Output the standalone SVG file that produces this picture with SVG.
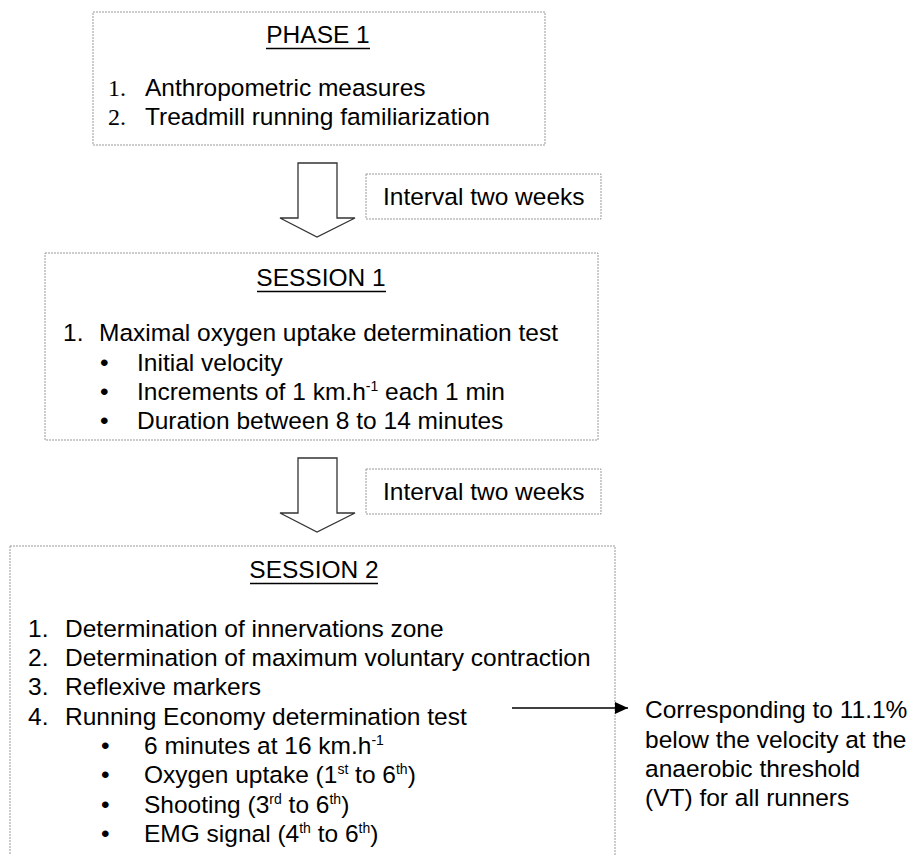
<svg xmlns="http://www.w3.org/2000/svg" width="911" height="855" viewBox="0 0 911 855">
<style>
.box{fill:#fff;stroke:#999;stroke-width:1;stroke-dasharray:2 1}
.t{font-family:"Liberation Sans",Arial,sans-serif;font-size:24.5px;fill:#000}
.n{font-family:"Liberation Serif","Times New Roman",serif;font-size:24px;fill:#000}
.h{text-anchor:middle}
.ul{stroke:#000;stroke-width:1.5}
.big{fill:#fff;stroke:#333;stroke-width:1.3}
.sup{font-size:14px}
</style>
<defs>
<marker id="ah" viewBox="0 0 13 12" refX="13" refY="6" markerWidth="13" markerHeight="12" markerUnits="userSpaceOnUse" orient="auto"><path d="M0,0 L13,6 L0,12 z" fill="#000"/></marker>
</defs>
<rect width="911" height="855" fill="#fff"/>
<g id="phase1">
<rect class="box" x="93" y="12" width="452" height="133"/>
<text class="t h" x="318" y="43">PHASE 1</text>
<line class="ul" x1="266" y1="48.5" x2="370" y2="48.5"/>
<text class="n" x="108" y="96">1.</text><text class="t" x="145" y="96">Anthropometric measures</text>
<text class="n" x="108" y="125">2.</text><text class="t" x="145" y="125">Treadmill running familiarization</text>
</g>
<g id="arrow1">
<path class="big" d="M298,163 H337 V218 H355 L317,237 L280,218 H298 Z"/>
</g>
<g id="interval1">
<rect class="box" x="366" y="174" width="235" height="45"/>
<text class="t" x="383" y="205">Interval two weeks</text>
</g>
<g id="session1">
<rect class="box" x="45" y="253" width="553" height="187"/>
<text class="t h" x="321" y="286">SESSION 1</text>
<line class="ul" x1="257" y1="291.5" x2="386" y2="291.5"/>
<text class="t" x="63" y="341">1.</text><text class="t" x="99" y="341">Maximal oxygen uptake determination test</text>
<text class="t" x="100" y="371">•</text><text class="t" x="137" y="371">Initial velocity</text>
<text class="t" x="100" y="400">•</text><text class="t" x="137" y="400">Increments of 1 km.h<tspan class="sup" dy="-9">-1</tspan><tspan dy="9"> each 1 min</tspan></text>
<text class="t" x="100" y="429">•</text><text class="t" x="137" y="429">Duration between 8 to 14 minutes</text>
</g>
<g id="arrow2">
<path class="big" d="M298,458 H337 V513 H355 L317,532 L280,513 H298 Z"/>
</g>
<g id="interval2">
<rect class="box" x="366" y="469" width="235" height="45"/>
<text class="t" x="383" y="500">Interval two weeks</text>
</g>
<g id="session2">
<rect class="box" x="10" y="546" width="605" height="320"/>
<text class="t h" x="314" y="578">SESSION 2</text>
<line class="ul" x1="250" y1="583.5" x2="378" y2="583.5"/>
<text class="t" x="28" y="637">1.</text><text class="t" x="65" y="637">Determination of innervations zone</text>
<text class="t" x="28" y="666">2.</text><text class="t" x="65" y="666">Determination of maximum voluntary contraction</text>
<text class="t" x="28" y="695">3.</text><text class="t" x="65" y="695">Reflexive markers</text>
<text class="t" x="28" y="725">4.</text><text class="t" x="65" y="725">Running Economy determination test</text>
<text class="t" x="101" y="754">•</text><text class="t" x="144" y="754">6 minutes at 16 km.h<tspan class="sup" dy="-9">-1</tspan></text>
<text class="t" x="101" y="783">•</text><text class="t" x="144" y="783">Oxygen uptake (1<tspan class="sup" dy="-9">st</tspan><tspan dy="9"> to 6</tspan><tspan class="sup" dy="-9">th</tspan><tspan dy="9">)</tspan></text>
<text class="t" x="101" y="813">•</text><text class="t" x="144" y="813">Shooting (3<tspan class="sup" dy="-9">rd</tspan><tspan dy="9"> to 6</tspan><tspan class="sup" dy="-9">th</tspan><tspan dy="9">)</tspan></text>
<text class="t" x="101" y="842">•</text><text class="t" x="144" y="842">EMG signal (4<tspan class="sup" dy="-9">th</tspan><tspan dy="9"> to 6</tspan><tspan class="sup" dy="-9">th</tspan><tspan dy="9">)</tspan></text>
</g>
<g id="note">
<text class="t" x="645" y="718">Corresponding to 11.1%</text>
<text class="t" x="645" y="748">below the velocity at the</text>
<text class="t" x="645" y="777">anaerobic threshold</text>
<text class="t" x="645" y="806">(VT) for all runners</text>
</g>
<g id="connectors">
<line x1="512" y1="708" x2="628" y2="708" stroke="#000" stroke-width="1.3" marker-end="url(#ah)"/>
</g>
</svg>
